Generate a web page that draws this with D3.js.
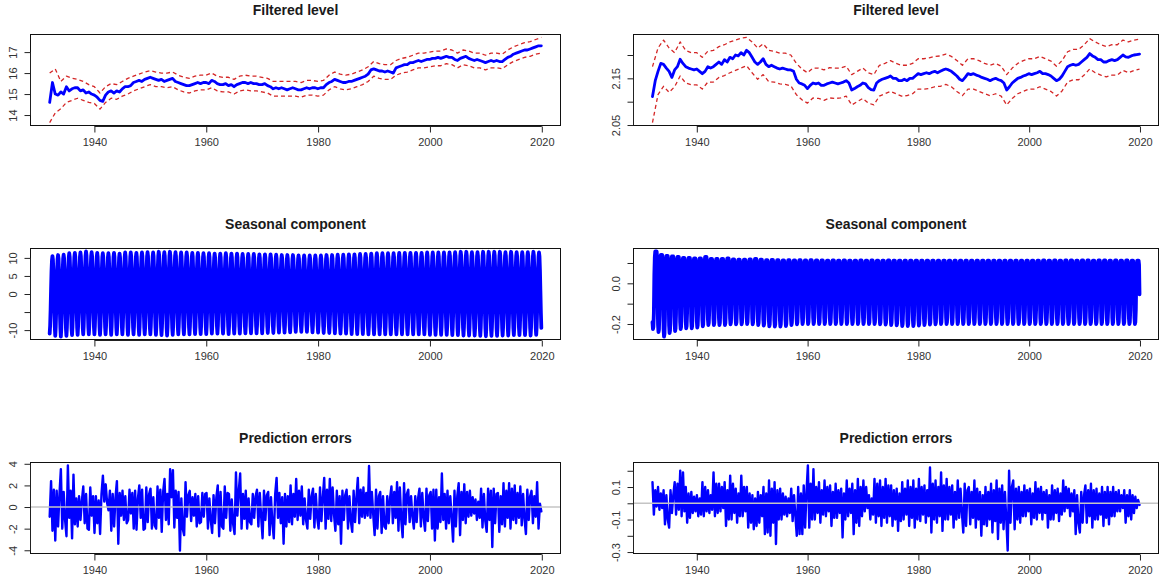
<!DOCTYPE html>
<html>
<head>
<meta charset="utf-8">
<script src="https://cdn.jsdelivr.net/npm/d3@7"></script>
<style>
body { margin: 0; background: #fff; }
svg { display: block; font-family: "Liberation Sans", Arial, sans-serif; }
</style>
</head>
<body>
<script>
// time range of the series (monthly, Jan 1932 - Dec 2019)
var startYear = 1932, endYear = 2019 + 11 / 12;
var xTicks = [1940, 1960, 1980, 2000, 2020];

// ---- left column: filtered level (half-yearly) + bands (yearly)
var levelL = [
  14.6,15.55, 15.0,14.95, 15.1,15.0, 15.35,15.15, 15.25,15.3, 15.3,15.15, 15.2,15.05, 15.1,15.0,
  14.95,14.85, 14.7,14.65, 14.95,15.1, 15.15,15.05, 15.15,15.1, 15.25,15.35, 15.35,15.4, 15.55,15.6, 15.65,15.6, 15.7,15.75,
  15.8,15.75, 15.7,15.65, 15.7,15.6, 15.65,15.7, 15.75,15.6, 15.55,15.5, 15.45,15.4, 15.4,15.45, 15.5,15.55, 15.5,15.55,
  15.55,15.5, 15.65,15.6, 15.5,15.45, 15.45,15.5, 15.4,15.45, 15.35,15.45, 15.5,15.55, 15.55,15.5, 15.55,15.5, 15.5,15.45,
  15.45,15.5, 15.4,15.35, 15.25,15.3, 15.25,15.3, 15.25,15.2, 15.25,15.3, 15.25,15.2, 15.2,15.25, 15.3,15.25, 15.3,15.3,
  15.25,15.3, 15.3,15.45, 15.55,15.6, 15.7,15.65, 15.6,15.55, 15.55,15.6, 15.6,15.65, 15.7,15.75, 15.8,15.85, 15.95,16.15,
  16.2,16.15, 16.1,16.1, 16.05,16.1, 16.05,16.0, 16.25,16.3, 16.35,16.4, 16.4,16.5, 16.5,16.55, 16.6,16.55, 16.6,16.65,
  16.65,16.7, 16.7,16.75, 16.7,16.75, 16.8,16.75, 16.75,16.65, 16.6,16.7, 16.75,16.8, 16.7,16.65, 16.6,16.65, 16.6,16.55,
  16.5,16.55, 16.6,16.55, 16.6,16.55, 16.55,16.65, 16.75,16.8, 16.9,16.95, 17.0,17.05, 17.1,17.1, 17.15,17.2, 17.25,17.3,
  17.3
];
var upperL = [
  16.0,16.2,15.6,15.85,15.75,15.7,15.6,15.45,
  15.35,15.05,15.35,15.5,15.45,15.6,15.75,15.85,15.95,16.05,
  16.12,16.05,16.0,16.0,16.05,15.9,15.8,15.75,15.85,15.9,
  15.9,16.0,15.85,15.8,15.8,15.7,15.85,15.9,15.85,15.85,
  15.8,15.75,15.6,15.6,15.6,15.6,15.6,15.55,15.65,15.65,
  15.6,15.65,15.9,16.05,15.95,15.9,15.95,16.05,16.15,16.3,
  16.55,16.45,16.4,16.4,16.6,16.7,16.75,16.85,16.95,16.95,
  17.0,17.05,17.05,17.15,17.1,16.95,17.1,17.05,16.95,16.95,
  16.85,16.95,16.95,16.9,17.1,17.25,17.35,17.45,17.5,17.6,
  17.7
];
var lowerL = [
  13.64,14.1,14.3,14.6,14.7,14.8,14.7,14.6,
  14.55,14.28,14.6,14.8,14.75,14.9,15.0,15.15,15.25,15.35,
  15.45,15.35,15.35,15.3,15.35,15.2,15.1,15.05,15.15,15.2,
  15.2,15.3,15.15,15.1,15.1,15.0,15.15,15.2,15.15,15.15,
  15.1,15.05,14.9,14.9,14.9,14.9,14.9,14.85,14.95,14.95,
  14.9,14.95,15.2,15.35,15.25,15.2,15.25,15.35,15.45,15.6,
  15.85,15.75,15.7,15.7,15.9,16.0,16.05,16.15,16.25,16.25,
  16.3,16.35,16.35,16.45,16.4,16.25,16.4,16.35,16.25,16.25,
  16.15,16.25,16.25,16.2,16.4,16.55,16.65,16.75,16.8,16.9,
  16.95
];

// ---- right column: filtered level + bands
var levelR = [
  2.111,2.145, 2.165,2.182, 2.18,2.172, 2.165,2.152, 2.168,2.175, 2.191,2.182, 2.175,2.172, 2.17,2.168,
  2.17,2.165, 2.16,2.165, 2.175,2.172, 2.175,2.18, 2.185,2.18, 2.19,2.185, 2.195,2.192, 2.2,2.198, 2.205,2.2, 2.21,2.205,
  2.195,2.185, 2.18,2.185, 2.192,2.18, 2.175,2.178, 2.175,2.172, 2.17,2.172, 2.17,2.168, 2.168,2.165, 2.148,2.14, 2.138,2.135,
  2.128,2.135, 2.14,2.138, 2.14,2.135, 2.135,2.138, 2.14,2.142, 2.14,2.138, 2.14,2.142, 2.145,2.14, 2.125,2.128, 2.132,2.135,
  2.14,2.138, 2.13,2.126, 2.125,2.14, 2.145,2.148, 2.15,2.152, 2.155,2.15, 2.15,2.145, 2.145,2.148, 2.145,2.15, 2.15,2.155,
  2.16,2.158, 2.16,2.162, 2.16,2.163, 2.165,2.162, 2.165,2.168, 2.17,2.168, 2.165,2.16, 2.155,2.148, 2.145,2.152, 2.16,2.158,
  2.16,2.157, 2.155,2.152, 2.15,2.148, 2.145,2.148, 2.15,2.147, 2.145,2.14, 2.125,2.132, 2.14,2.145, 2.15,2.152, 2.155,2.157,
  2.16,2.158, 2.16,2.162, 2.165,2.16, 2.16,2.158, 2.155,2.15, 2.145,2.148, 2.155,2.165, 2.175,2.178, 2.18,2.178, 2.18,2.185,
  2.19,2.195, 2.203,2.198, 2.195,2.19, 2.19,2.185, 2.185,2.188, 2.19,2.188, 2.19,2.195, 2.2,2.196, 2.195,2.198, 2.2,2.201,
  2.202
];
var upperR = [
  2.175,2.215,2.232,2.215,2.205,2.228,2.21,2.205,
  2.205,2.195,2.208,2.21,2.218,2.222,2.228,2.232,2.236,2.2377,
  2.228,2.215,2.224,2.21,2.208,2.204,2.204,2.2,2.182,2.17,
  2.162,2.172,2.172,2.168,2.173,2.172,2.172,2.176,2.158,2.165,
  2.172,2.162,2.158,2.178,2.182,2.188,2.182,2.178,2.178,2.182,
  2.192,2.192,2.194,2.197,2.198,2.202,2.197,2.188,2.178,2.192,
  2.192,2.188,2.182,2.178,2.182,2.176,2.158,2.172,2.182,2.188,
  2.192,2.192,2.197,2.192,2.187,2.176,2.188,2.207,2.212,2.212,
  2.222,2.235,2.228,2.222,2.218,2.222,2.222,2.232,2.228,2.232,
  2.234
];
var lowerR = [
  2.0552,2.115,2.133,2.12,2.132,2.155,2.14,2.136,
  2.136,2.127,2.142,2.142,2.152,2.156,2.162,2.167,2.172,2.177,
  2.162,2.148,2.158,2.143,2.142,2.138,2.137,2.134,2.115,2.104,
  2.097,2.108,2.107,2.103,2.108,2.107,2.108,2.112,2.093,2.1,
  2.107,2.097,2.093,2.112,2.117,2.122,2.117,2.112,2.113,2.117,
  2.127,2.127,2.128,2.132,2.133,2.137,2.132,2.122,2.113,2.127,
  2.127,2.122,2.117,2.113,2.117,2.112,2.093,2.107,2.117,2.122,
  2.127,2.127,2.132,2.127,2.122,2.112,2.123,2.142,2.147,2.147,
  2.157,2.17,2.162,2.157,2.153,2.157,2.157,2.167,2.162,2.167,
  2.17
];

// ---- seasonal component: monthly shape (Jan..Dec, relative) + yearly peak / trough
var seasShapeL = [-1, -0.8, -0.4, 0.13, 0.62, 0.9, 1, 0.91, 0.58, 0.07, -0.45, -0.83];
var seasPeakL = [
  10.5,10.8,10.9,11.3,11.4,11.5,11.8,11.6,
  11.4,11.3,11.3,11.4,11.2,11.5,11.5,11.4,11.5,11.6,
  11.5,11.7,11.6,11.7,11.6,11.5,11.5,11.4,11.4,11.3,
  11.3,11.2,11.2,11.3,11.2,11.2,11.1,11.1,11.1,11.0,
  11.0,11.0,10.9,10.8,10.8,10.8,10.7,10.7,10.7,10.7,
  10.7,10.8,10.8,10.9,10.9,11.0,11.0,11.1,11.1,11.2,
  11.3,11.3,11.3,11.3,11.4,11.4,11.4,11.4,11.4,11.5,
  11.5,11.5,11.5,11.5,11.6,11.7,11.7,11.6,11.6,11.7,
  11.7,11.7,11.7,11.6,11.7,11.6,11.6,11.6,11.7,11.5
];
var seasTroughL = [
  -11.0,-11.6,-11.8,-11.6,-11.4,-11.3,-11.2,-11.2,
  -11.2,-11.3,-11.2,-11.3,-11.2,-11.2,-11.3,-11.2,-11.3,-11.2,
  -11.2,-11.3,-11.4,-11.5,-11.3,-11.2,-11.2,-11.2,-11.1,-11.1,
  -11.1,-11.0,-11.0,-11.0,-11.1,-11.0,-11.0,-10.9,-10.9,-10.9,
  -10.9,-10.8,-10.8,-10.7,-10.7,-10.6,-10.5,-10.5,-10.5,-10.6,
  -10.7,-10.8,-10.8,-10.9,-11.0,-11.0,-11.1,-11.1,-11.1,-11.2,
  -11.2,-11.2,-11.2,-11.2,-11.2,-11.2,-11.2,-11.2,-11.2,-11.2,
  -11.3,-11.3,-11.3,-11.3,-11.4,-11.4,-11.5,-11.5,-11.5,-11.6,
  -11.7,-11.6,-11.6,-11.5,-11.5,-11.4,-11.4,-11.4,-11.5,-11.3
];
var seasShapeR = [-0.85, -1, -0.95, -0.65, 0.27, 0.82, 1, 1, 1, 1, 0.82, -0.27];
var seasPeakR = [
  0.157,0.14,0.135,0.132,0.13,0.125,0.125,0.122,
  0.122,0.13,0.12,0.12,0.12,0.122,0.118,0.116,0.116,0.118,
  0.12,0.116,0.114,0.115,0.114,0.113,0.114,0.113,0.114,0.113,
  0.114,0.113,0.113,0.112,0.113,0.112,0.113,0.112,0.112,0.113,
  0.112,0.113,0.112,0.112,0.113,0.112,0.112,0.111,0.112,0.112,
  0.111,0.112,0.112,0.111,0.112,0.112,0.111,0.112,0.111,0.112,
  0.111,0.112,0.112,0.111,0.112,0.111,0.112,0.112,0.111,0.112,
  0.112,0.112,0.113,0.112,0.113,0.112,0.113,0.113,0.112,0.113,
  0.113,0.112,0.113,0.113,0.112,0.113,0.112,0.113,0.112,0.112
];
var seasTroughR = [
  -0.225,-0.24,-0.262,-0.245,-0.235,-0.225,-0.222,-0.222,
  -0.218,-0.212,-0.205,-0.205,-0.205,-0.205,-0.202,-0.202,-0.202,-0.2,
  -0.202,-0.205,-0.208,-0.212,-0.213,-0.213,-0.21,-0.205,-0.202,-0.2,
  -0.2,-0.2,-0.201,-0.2,-0.2,-0.201,-0.2,-0.2,-0.201,-0.2,
  -0.2,-0.201,-0.2,-0.202,-0.203,-0.205,-0.207,-0.21,-0.21,-0.21,
  -0.208,-0.205,-0.203,-0.202,-0.201,-0.2,-0.2,-0.2,-0.201,-0.2,
  -0.2,-0.2,-0.201,-0.2,-0.2,-0.201,-0.2,-0.2,-0.2,-0.201,
  -0.2,-0.2,-0.201,-0.2,-0.2,-0.2,-0.201,-0.2,-0.2,-0.2,
  -0.201,-0.2,-0.2,-0.2,-0.201,-0.2,-0.2,-0.2,-0.201,-0.2
];

// ---- prediction errors (quarterly)
var errL = [
  -0.9,2.4,-2.2,1.6, -3.1,1.5,-1.8,1.2, 3.5,-2.0,1.4,-1.2, -2.7,3.85,-1.0,1.5, -2.9,3.0,-1.6,0.8,
  -1.8,1.0,-1.2,0.6, 1.9,-1.5,1.2,-2.0, -2.1,1.8,-0.8,1.0,
  -2.4,1.0,-1.5,0.6, -2.5,1.2,2.9,0.5, 2.1,0.4,-0.3,1.5, -2.2,1.2,-1.8,0.9, 2.4,-3.4,1.3,-0.8,
  1.5,-1.2,1.0,-1.5, -1.2,1.6,-0.6,1.3, -2.0,1.5,-2.1,0.8, 2.0,-1.0,1.6,-2.1, -2.0,1.8,-1.4,1.2,
  1.7,-2.0,0.9,-1.7, -2.0,1.9,-1.0,1.6, -2.3,1.4,2.6,-1.2, 1.2,-1.6,3.5,0.9, 3.4,-1.9,1.5,-1.0,
  1.4,-4.03,0.8,-2.0, -2.6,2.3,-0.9,1.1, 1.5,-1.3,0.9,-0.8, 1.2,-1.8,1.0,-1.5, -1.4,1.3,-0.9,1.2,
  1.3,-2.0,0.8,-1.2, -2.4,1.1,-1.5,0.9, 2.0,-2.7,1.4,-1.8, -2.0,1.9,-1.0,1.3, 1.2,-2.2,0.7,-1.6,
  -2.5,3.2,-0.8,1.5, 3.1,-2.0,1.2,-1.1, 1.5,-2.0,0.8,-1.4, -1.6,1.2,-1.0,1.0, 1.6,-1.8,1.3,-0.9,
  -2.9,1.5,-1.2,1.1, 1.4,-2.6,0.9,-1.5, -2.9,1.2,2.7,-1.0, 1.3,-1.5,0.9,-3.4, 1.2,-1.8,1.0,-1.4,
  2.0,-1.6,1.2,-0.9, 2.6,-1.2,1.5,-0.8, 1.9,-1.6,0.8,-1.2, -2.0,1.6,-1.1,1.0, 1.7,-1.9,1.2,-1.0,
  -2.0,1.8,-1.3,0.9, 2.7,-2.0,1.6,-1.1, 2.6,-1.3,1.8,-0.7, -2.2,1.5,-1.6,1.0, -3.4,1.5,-1.2,1.1,
  1.6,-2.0,1.0,-1.3, -2.3,1.5,-1.4,0.9, 2.7,-1.5,1.6,-0.9, 1.8,-1.0,1.3,-0.8, 3.8,-1.0,1.4,-0.7,
  -2.6,1.6,-2.0,1.0, 1.4,-2.4,1.0,-1.8, -2.0,1.0,-1.5,0.8, 1.9,-1.5,1.4,-1.0, 2.3,-2.2,1.8,-1.2,
  -2.8,2.2,-1.6,1.2, 1.6,-1.4,1.0,-0.9, -2.0,1.0,-1.4,0.8, 1.7,-1.8,1.3,-1.0, -2.2,1.7,-1.3,1.1,
  1.4,-2.0,1.6,-3.1, 1.6,-2.0,0.9,-1.4, 3.1,-1.2,1.2,-2.0, 1.5,-1.5,1.0,-1.0, -3.2,1.5,-1.8,1.0,
  2.2,-2.6,1.4,-1.2, 2.1,-1.5,1.4,-0.9, 1.5,-0.8,0.9,-0.6, 0.7,-1.2,0.5,-1.0, 1.7,-1.9,1.2,-1.3,
  -2.3,1.7,-1.2,1.5, -3.7,1.7,-1.5,1.2, 1.3,-2.3,1.0,-1.6, 2.2,-1.8,1.5,-1.0, 2.2,-2.0,1.7,-1.2,
  2.0,-1.5,1.3,-1.0, 1.9,-1.7,1.2,-1.1, -2.5,1.6,-1.2,1.0, 1.5,-1.5,1.0,-0.9, 2.3,-2.0,0.3,-0.4
];
var errR = [
  0.13,-0.07,0.08,-0.02, 0.1,-0.04,0.06,-0.03, 0.08,-0.13,0.05,-0.1, -0.15,0.08,-0.06,0.05, 0.13,-0.07,0.12,-0.04,
  0.2,-0.08,0.19,-0.05, 0.1,-0.12,0.06,-0.09, 0.07,-0.06,0.04,-0.05,
  0.05,-0.08,0.03,-0.07, 0.13,-0.08,0.1,-0.05, 0.08,-0.06,0.05,-0.04, 0.19,-0.08,0.12,-0.06, 0.12,-0.05,0.1,-0.03,
  0.13,-0.14,0.08,-0.1, 0.17,-0.1,0.12,-0.06, 0.09,-0.12,0.06,-0.08, 0.17,-0.08,0.1,-0.05, 0.1,-0.15,0.06,-0.12,
  0.05,-0.16,0.03,-0.14, 0.07,-0.12,0.05,-0.08, 0.1,-0.19,0.06,-0.18, 0.14,-0.2,0.09,-0.12, 0.13,-0.25,0.08,-0.1,
  0.09,-0.1,0.06,-0.07, 0.04,-0.08,0.03,-0.06, 0.09,-0.11,0.05,-0.08, -0.2,0.1,-0.19,0.06, -0.19,0.11,-0.15,0.07,
  0.233,-0.15,0.12,-0.1, 0.21,-0.1,0.1,-0.06, 0.13,-0.12,0.08,-0.07, 0.14,-0.08,0.1,-0.05, 0.11,-0.14,0.07,-0.09,
  0.12,-0.09,0.08,-0.06, 0.09,-0.21,0.06,-0.1, 0.14,-0.08,0.09,-0.06, 0.12,-0.19,0.08,-0.12, 0.15,-0.14,0.1,-0.08,
  0.14,-0.05,0.1,-0.03, 0.05,-0.1,0.03,-0.07, 0.15,-0.12,0.12,-0.08, 0.14,-0.14,0.1,-0.09, 0.15,-0.12,0.11,-0.08,
  0.11,-0.14,0.08,-0.1, 0.09,-0.17,0.06,-0.11, 0.13,-0.1,0.09,-0.07, 0.14,-0.14,0.1,-0.09, 0.14,-0.15,0.09,-0.1,
  0.15,-0.11,0.1,-0.07, 0.11,-0.12,0.08,-0.08, 0.22,-0.18,0.12,-0.1, 0.14,-0.12,0.1,-0.08, 0.19,-0.17,0.11,-0.1,
  0.15,-0.1,0.1,-0.07, 0.11,-0.15,0.07,-0.1, 0.14,-0.09,0.09,-0.06, -0.18,0.12,-0.14,0.08, 0.1,-0.13,0.07,-0.09,
  0.14,-0.15,0.09,-0.1, 0.07,-0.2,0.05,-0.13, 0.1,-0.14,0.07,-0.1, 0.12,-0.18,0.08,-0.11, 0.14,-0.22,0.09,-0.12,
  0.11,-0.16,0.07,-0.1, -0.291,0.2,-0.12,0.1, 0.14,-0.16,0.09,-0.1, 0.1,-0.12,0.07,-0.08, 0.11,-0.08,0.08,-0.05,
  0.09,-0.13,0.06,-0.09, 0.13,-0.1,0.09,-0.06, 0.1,-0.1,0.07,-0.06, 0.08,-0.15,0.05,-0.1, 0.11,-0.1,0.08,-0.06,
  0.09,-0.11,0.06,-0.07, 0.14,-0.05,0.1,-0.03, 0.09,-0.08,0.06,-0.05, 0.08,-0.19,0.05,-0.12, -0.18,0.07,-0.12,0.05,
  0.11,-0.12,0.08,-0.08, 0.12,-0.15,0.08,-0.1, 0.09,-0.1,0.06,-0.07, 0.1,-0.14,0.07,-0.09, 0.1,-0.13,0.07,-0.08,
  0.1,-0.08,0.07,-0.05, 0.08,-0.05,0.05,-0.03, 0.08,-0.12,0.05,-0.08, 0.08,-0.1,0.05,-0.06, 0.04,-0.03,0.02,-0.01
];

// y ticks per panel (empty label = tick only, like R drops overlapping labels)
var yTicksLevelL = [14, 15, 16, 17],              yLabLevelL = ["14", "15", "16", "17"];
var yTicksLevelR = [2.05, 2.10, 2.15, 2.20],      yLabLevelR = ["2.05", "", "2.15", ""];
var yTicksSeasL = [-10, -5, 0, 5, 10],            yLabSeasL = ["-10", "", "0", "5", "10"];
var yTicksSeasR = [-0.2, -0.1, 0, 0.1],           yLabSeasR = ["-0.2", "", "0.0", ""];
var yTicksErrL = [-4, -2, 0, 2, 4],               yLabErrL = ["-4", "-2", "0", "2", "4"];
var yTicksErrR = [-0.3, -0.2, -0.1, 0, 0.1, 0.2], yLabErrR = ["-0.3", "", "-0.1", "", "0.1", ""];

// helpers: values spread evenly over the time range
function evenSeries(values) {
  var step = (endYear - startYear) / (values.length - 1);
  return values.map(function (v, i) { return { t: startYear + i * step, v: v }; });
}
function seasonalSeries(shape, peaks, troughs) {
  var out = [];
  peaks.forEach(function (p, k) {
    shape.forEach(function (s, m) {
      out.push({ t: startYear + k + m / 12, v: s >= 0 ? s * p : -s * troughs[k] });
    });
  });
  return out;
}

var blue = "#0000ff", red = "#d42626";

var panels = [
  { col: 0, row: 0, title: "Filtered level", yt: yTicksLevelL, yl: yLabLevelL, series: [
    { d: evenSeries(upperL), c: red, w: 1.3, dash: "4,3" },
    { d: evenSeries(lowerL), c: red, w: 1.3, dash: "4,3" },
    { d: evenSeries(levelL), c: blue, w: 2.8 }] },
  { col: 1, row: 0, title: "Filtered level", yt: yTicksLevelR, yl: yLabLevelR, series: [
    { d: evenSeries(upperR), c: red, w: 1.3, dash: "4,3" },
    { d: evenSeries(lowerR), c: red, w: 1.3, dash: "4,3" },
    { d: evenSeries(levelR), c: blue, w: 2.8 }] },
  { col: 0, row: 1, title: "Seasonal component", yt: yTicksSeasL, yl: yLabSeasL, series: [
    { d: seasonalSeries(seasShapeL, seasPeakL, seasTroughL), c: blue, w: 3.8 }] },
  { col: 1, row: 1, title: "Seasonal component", yt: yTicksSeasR, yl: yLabSeasR, series: [
    { d: seasonalSeries(seasShapeR, seasPeakR, seasTroughR), c: blue, w: 3.8 }] },
  { col: 0, row: 2, title: "Prediction errors", yt: yTicksErrL, yl: yLabErrL, zero: true, series: [
    { d: evenSeries(errL), c: blue, w: 2.4 }] },
  { col: 1, row: 2, title: "Prediction errors", yt: yTicksErrR, yl: yLabErrR, zero: true, series: [
    { d: evenSeries(errR), c: blue, w: 2.4 }] }
];

// layout
var W = 1160, H = 580;
var colLeft = [30, 633], colWidth = [531, 526];
var rowTop = [34, 248, 462], boxH = 92;

var svg = d3.select("body").append("svg").attr("width", W).attr("height", H);

var span = endYear - startYear;

panels.forEach(function (p) {
  var left = colLeft[p.col], top = rowTop[p.row];
  var right = left + colWidth[p.col], bottom = top + boxH;

  // R style 4% padding on both axes
  var x = d3.scaleLinear()
    .domain([startYear - 0.04 * span, endYear + 0.04 * span])
    .range([left, right]);
  var all = [];
  p.series.forEach(function (s) { s.d.forEach(function (o) { all.push(o.v); }); });
  var ext = d3.extent(all), pad = (ext[1] - ext[0]) * 0.04;
  var y = d3.scaleLinear().domain([ext[0] - pad, ext[1] + pad]).range([bottom, top]);

  var g = svg.append("g");

  // title
  g.append("text")
    .attr("x", (left + right) / 2).attr("y", top - 19)
    .attr("text-anchor", "middle")
    .style("font-weight", "bold").style("font-size", "14px").style("fill", "#1a1a1a")
    .text(p.title);

  // lines
  var line = d3.line().x(function (d) { return x(d.t); }).y(function (d) { return y(d.v); });
  p.series.forEach(function (s) {
    g.append("path")
      .attr("d", line(s.d))
      .attr("fill", "none")
      .attr("stroke", s.c)
      .attr("stroke-width", s.w)
      .attr("stroke-linejoin", "round")
      .attr("stroke-linecap", s.dash ? "butt" : "round")
      .attr("stroke-dasharray", s.dash || null);
  });

  if (p.zero) {
    g.append("line")
      .attr("x1", left).attr("x2", right)
      .attr("y1", y(0)).attr("y2", y(0))
      .attr("stroke", "#c4c4c4").attr("stroke-width", 1.5);
  }

  // box
  g.append("rect")
    .attr("x", left + 0.5).attr("y", top + 0.5)
    .attr("width", right - left - 1).attr("height", boxH - 1)
    .attr("fill", "none").attr("stroke", "#111").attr("stroke-width", 1);

  // x axis
  var xa = d3.axisBottom(x).tickValues(xTicks).tickSize(6).tickPadding(6).tickFormat(d3.format("d"));
  var gx = g.append("g").attr("transform", "translate(0," + (bottom + 0.5) + ")").call(xa);
  gx.select(".domain").attr("d", "M" + x(xTicks[0]) + ",0H" + x(xTicks[xTicks.length - 1]));

  // y axis with rotated labels
  var ya = d3.axisLeft(y).tickValues(p.yt).tickSize(6).tickFormat(function (d, i) { return p.yl[i]; });
  var gy = g.append("g").attr("transform", "translate(" + (left + 0.5) + ",0)").call(ya);
  gy.select(".domain").attr("d", "M0," + y(p.yt[0]) + "V" + y(p.yt[p.yt.length - 1]));
  gy.selectAll(".tick text")
    .attr("x", null).attr("dy", null)
    .attr("text-anchor", "middle")
    .attr("transform", "translate(-14,0) rotate(-90)");

  [gx, gy].forEach(function (a) {
    a.selectAll(".tick line").attr("stroke", "#222");
    a.select(".domain").attr("stroke", "#222");
    a.selectAll(".tick text").style("font-size", "11px").style("fill", "#333")
      .style("font-family", "'Liberation Sans', Arial, sans-serif");
  });
});
</script>
</body>
</html>
